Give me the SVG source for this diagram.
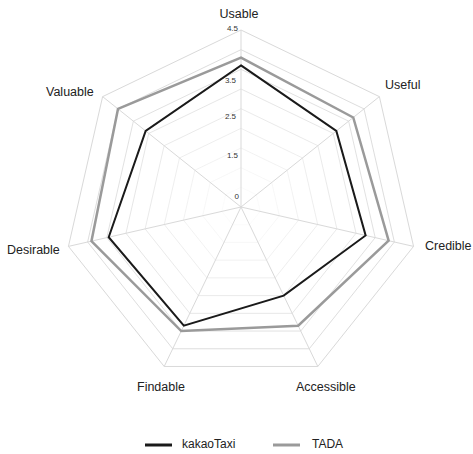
<svg xmlns="http://www.w3.org/2000/svg" xmlns:xlink="http://www.w3.org/1999/xlink" width="473" height="454" viewBox="0 0 473 454">
<style>
.grid{fill:none;stroke:#d9d9d9;stroke-width:1;vector-effect:non-scaling-stroke}
.spoke{stroke:#d9d9d9;stroke-width:1}
.lbl{font-family:"Liberation Sans",Arial,sans-serif;font-size:12.5px;fill:#222}
.num{font-family:"Liberation Sans",Arial,sans-serif;font-size:8px;fill:#333;text-anchor:end}
.s1{fill:none;stroke:#1a1a1a;stroke-width:2;stroke-linejoin:miter}
.s2{fill:none;stroke:#9a9a9a;stroke-width:2.5;stroke-linejoin:miter}
</style>
<defs>
<polygon id="ring" points="0,-177 138.38,-110.36 172.56,39.39 76.8,159.47 -76.8,159.47 -172.56,39.39 -138.38,-110.36"/>
</defs>
<rect width="473" height="454" fill="#fff"/>
<g id="grid" transform="translate(241 207)">
<use xlink:href="#ring" class="grid" transform="scale(0.11111)"/>
<use xlink:href="#ring" class="grid" transform="scale(0.22222)"/>
<use xlink:href="#ring" class="grid" transform="scale(0.33333)"/>
<use xlink:href="#ring" class="grid" transform="scale(0.44444)"/>
<use xlink:href="#ring" class="grid" transform="scale(0.55556)"/>
<use xlink:href="#ring" class="grid" transform="scale(0.66667)"/>
<use xlink:href="#ring" class="grid" transform="scale(0.77778)"/>
<use xlink:href="#ring" class="grid" transform="scale(0.88889)"/>
<use xlink:href="#ring" class="grid"/>
<line class="spoke" x1="0" y1="0" x2="0" y2="-177"/>
<line class="spoke" x1="0" y1="0" x2="138.38" y2="-110.36"/>
<line class="spoke" x1="0" y1="0" x2="172.56" y2="39.39"/>
<line class="spoke" x1="0" y1="0" x2="76.8" y2="159.47"/>
<line class="spoke" x1="0" y1="0" x2="-76.8" y2="159.47"/>
<line class="spoke" x1="0" y1="0" x2="-172.56" y2="39.39"/>
<line class="spoke" x1="0" y1="0" x2="-138.38" y2="-110.36"/>
</g>
<g id="scale">
<text class="num" x="238" y="31">4.5</text>
<text class="num" x="236" y="83">3.5</text>
<text class="num" x="236" y="119">2.5</text>
<text class="num" x="238" y="158">1.5</text>
<text class="num" x="239" y="199">0</text>
</g>
<g id="series" transform="translate(241 207)">
<polygon id="tada" class="s2" points="0,-149.47 112.25,-89.51 147.63,33.7 57.17,118.72 -59.73,124.03 -149.55,34.13 -123.01,-98.1"/>
<polygon id="kakaotaxi" class="s1" points="0,-141.6 95.33,-76.02 124.63,28.44 42.66,88.6 -57.17,118.72 -132.3,30.2 -95.33,-76.02"/>
</g>
<g id="axis-labels">
<text class="lbl" x="239" y="18" text-anchor="middle">Usable</text>
<text class="lbl" x="385" y="89">Useful</text>
<text class="lbl" x="425" y="250">Credible</text>
<text class="lbl" x="296" y="391">Accessible</text>
<text class="lbl" x="137" y="391">Findable</text>
<text class="lbl" x="7" y="254">Desirable</text>
<text class="lbl" x="46" y="96">Valuable</text>
</g>
<g id="legend">
<line x1="145" y1="445" x2="172" y2="445" stroke="#1a1a1a" stroke-width="3"/>
<text class="lbl" x="182" y="448" style="font-size:12px">kakaoTaxi</text>
<line x1="273" y1="445" x2="300" y2="445" stroke="#9a9a9a" stroke-width="3"/>
<text class="lbl" x="312" y="448" style="font-size:12px">TADA</text>
</g>
</svg>
